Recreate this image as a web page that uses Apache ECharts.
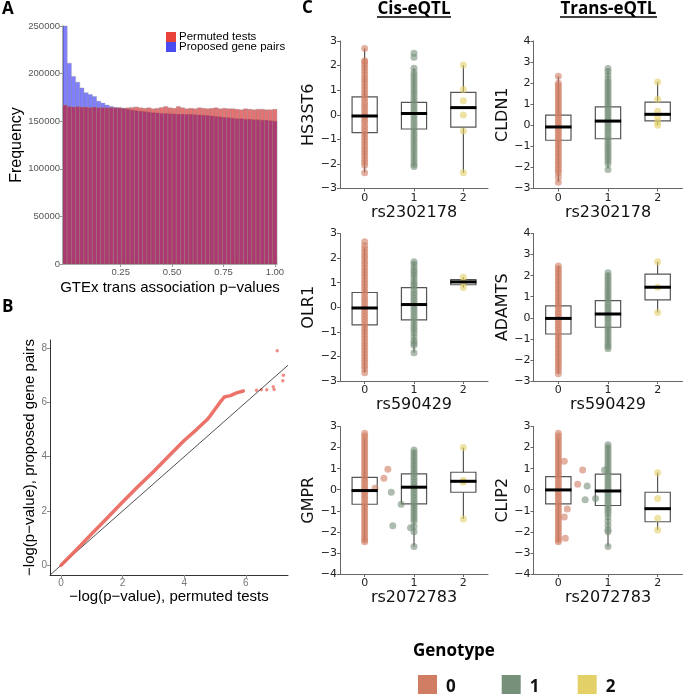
<!DOCTYPE html>
<html><head><meta charset="utf-8">
<script src="https://cdn.jsdelivr.net/npm/echarts@6/dist/echarts.min.js"></script>
<style>html,body{margin:0;padding:0;background:#fff}#c{width:683px;height:694px}</style>
</head><body><div id="c"></div>
<script>
// ---------- Panel A: histogram ----------
const histBinStart = -0.0306;
const histBinWidth = 1 / 49;
const histPermuted = [167000,165500,165000,165500,165000,165000,164500,165000,164000,164500,
  164000,164500,164000,164000,163500,164000,164500,165000,164000,163500,
  164000,163000,163500,164500,165500,164000,163500,165500,164000,163000,
  163500,163000,164000,163500,163000,163500,164000,163000,163500,163000,
  163000,162500,162000,163000,162500,162000,162500,162500,162000,162000,162500];
const histProposed = [250000,211000,197000,191000,185000,180000,178000,176000,171000,169000,
  167000,165500,164500,164000,163500,162500,161500,161000,160500,160000,
  159500,159000,158500,158200,158000,157800,157600,157400,157200,157000,
  157000,156800,156500,156200,156000,155500,155000,154500,154000,153500,
  153000,152500,152500,152000,152000,151500,151500,151000,151000,150500,150000];
const histXTicks = [0.25, 0.5, 0.75, 1.0];
const histYTicks = [0, 50000, 100000, 150000, 200000, 250000];

// ---------- Panel B: QQ plot ----------
const qqCurve = [[0,0],[0.5,0.57],[1,1.16],[1.5,1.74],[2,2.33],[2.5,2.9],[3,3.45],[3.5,4.03],
  [4,4.6],[4.4,5.0],[4.73,5.35],[4.84,5.5],[5.0,5.75],[5.16,6.0],[5.3,6.2],[5.5,6.25],[5.7,6.35],[5.92,6.42]];
const qqOutliers = [[6.35,6.45],[6.5,6.47],[6.68,6.47],[6.89,6.58],[6.92,6.48],[7.2,6.8],[7.22,7.0],[7.02,7.9]];
const qqDiagonal = [[-0.357,-0.357],[7.37,7.37]];
const qqXTicks = [0, 2, 4, 6];
const qqYTicks = [0, 2, 4, 6, 8];

// ---------- Panel C: eQTL boxplots ----------
const genotypes = ['0', '1', '2'];
const cGenes = ['HS3ST6', 'CLDN1', 'OLR1', 'ADAMTS', 'GMPR', 'CLIP2'];
const cSnps = ['rs2302178', 'rs2302178', 'rs590429', 'rs590429', 'rs2072783', 'rs2072783'];
const cYMin = [-3, -3, -3, -3, -4, -4];
const cYMax = [3, 4, 3, 4, 3, 3];
// box stats per genotype: [lowWhisker, q1, median, q3, highWhisker]
const hs3st6Box = [[-2.36,-0.73,-0.05,0.73,2.7],[-2.1,-0.58,0.05,0.5,1.89],[-2.36,-0.5,0.29,0.91,2.02]];
const cldn1Box  = [[-2.7,-0.71,-0.08,0.48,2.33],[-2.06,-0.64,0.2,0.87,2.7],[0.0,0.21,0.52,1.1,2.06]];
const olr1Box   = [[-2.66,-0.72,-0.03,0.6,2.4],[-1.85,-0.51,0.11,0.8,1.85],[0.8,0.915,1.03,1.125,1.22]];
const adamtsBox = [[-2.65,-0.77,-0.03,0.57,2.46],[-1.47,-0.45,0.18,0.81,2.14],[0.25,0.85,1.45,2.07,2.66]];
const gmprBox   = [[-2.47,-0.69,-0.04,0.59,2.4],[-2.7,-0.67,0.12,0.75,1.89],[-1.39,-0.12,0.4,0.83,2.0]];
const clip2Box  = [[-2.47,-0.67,-0.01,0.62,2.4],[-2.7,-0.75,-0.06,0.74,2.13],[-1.91,-1.52,-0.9,-0.12,0.81]];
// expression values of the plotted samples, per genotype
const hs3st6Pts = [
  [2.7,2.2,2.15,2.02,1.9,1.78,1.65,1.52,1.4,1.28,1.15,1.03,0.9,0.78,0.66,0.53,0.41,0.29,0.17,0.05,-0.07,-0.19,-0.31,-0.44,-0.56,-0.68,-0.8,-0.93,-1.05,-1.17,-1.3,-1.42,-1.55,-1.67,-1.8,-1.92,-2.05,-2.36],
  [2.5,2.34,1.89,1.72,1.6,1.47,1.35,1.22,1.1,0.97,0.85,0.72,0.6,0.47,0.35,0.22,0.1,-0.03,-0.15,-0.28,-0.4,-0.53,-0.65,-0.78,-0.9,-1.03,-1.15,-1.28,-1.4,-1.53,-1.65,-1.78,-1.9,-2.02,-2.1],
  [2.02,1.03,0.57,-0.01,-0.66,-2.36]];
const cldn1Pts = [
  [2.33,2.0,1.88,1.75,1.62,1.5,1.37,1.25,1.12,1.0,0.87,0.75,0.62,0.5,0.37,0.25,0.12,0.0,-0.13,-0.25,-0.38,-0.5,-0.63,-0.75,-0.88,-1.0,-1.13,-1.25,-1.38,-1.5,-1.63,-1.75,-1.88,-2.0,-2.13,-2.25,-2.45,-2.7],
  [2.7,2.55,2.38,2.2,2.07,1.95,1.82,1.7,1.57,1.45,1.32,1.2,1.07,0.95,0.82,0.7,0.57,0.45,0.32,0.2,0.07,-0.05,-0.18,-0.3,-0.43,-0.55,-0.68,-0.8,-0.93,-1.05,-1.18,-1.3,-1.43,-1.55,-1.68,-1.82,-2.1],
  [2.06,1.24,0.67,0.37,0.16,0.0]];
const olr1Pts = [
  [2.66,2.5,2.37,2.25,2.12,2.0,1.87,1.75,1.62,1.5,1.37,1.25,1.12,1.0,0.87,0.75,0.62,0.5,0.37,0.25,0.12,0.0,-0.13,-0.25,-0.38,-0.5,-0.63,-0.75,-0.88,-1.0,-1.13,-1.25,-1.38,-1.5,-1.63,-1.75,-1.88,-2.0,-2.13,-2.25,-2.38,-2.5,-2.66],
  [1.85,1.75,1.62,1.5,1.4,1.3,1.18,1.05,0.95,0.85,0.72,0.6,0.5,0.38,0.27,0.15,0.05,-0.07,-0.18,-0.3,-0.42,-0.55,-0.68,-0.8,-0.92,-1.05,-1.2,-1.35,-1.45,-1.55,-1.85],
  [1.22,1.03,0.8]];
const adamtsPts = [
  [2.46,2.33,2.2,2.08,1.95,1.82,1.7,1.57,1.44,1.32,1.19,1.06,0.94,0.81,0.68,0.56,0.43,0.3,0.18,0.05,-0.08,-0.2,-0.33,-0.46,-0.58,-0.71,-0.84,-0.96,-1.09,-1.22,-1.34,-1.47,-1.6,-1.72,-1.85,-1.98,-2.1,-2.23,-2.36,-2.5,-2.65],
  [2.14,2.0,1.88,1.75,1.62,1.5,1.37,1.25,1.12,1.0,0.88,0.75,0.62,0.5,0.38,0.25,0.12,0.0,-0.12,-0.25,-0.38,-0.5,-0.62,-0.75,-0.88,-1.0,-1.12,-1.25,-1.36,-1.47],
  [2.66,1.45,0.25]];
const gmprPts = [
  [2.68,2.55,2.42,2.3,2.17,2.04,1.92,1.79,1.66,1.54,1.41,1.28,1.16,1.03,0.9,0.78,0.65,0.52,0.4,0.27,0.14,0.02,-0.11,-0.24,-0.36,-0.49,-0.62,-0.74,-0.87,-1.0,-1.12,-1.25,-1.38,-1.5,-1.63,-1.76,-1.88,-2.01,-2.14,-2.26,-2.39,-2.47],
  [1.89,1.75,1.62,1.5,1.37,1.25,1.12,1.0,0.87,0.75,0.62,0.5,0.37,0.25,0.12,0.0,-0.13,-0.25,-0.38,-0.5,-0.63,-0.75,-0.88,-1.0,-1.13,-1.25,-1.38,-1.5,-1.75,-2.0,-2.7],
  [2.0,0.44,0.37,-1.39]];
const clip2Pts = [
  [2.68,2.55,2.42,2.3,2.17,2.04,1.92,1.79,1.66,1.54,1.41,1.28,1.16,1.03,0.9,0.78,0.65,0.52,0.4,0.27,0.14,0.02,-0.11,-0.24,-0.36,-0.49,-0.62,-0.74,-0.87,-1.0,-1.12,-1.25,-1.38,-1.5,-1.63,-1.76,-1.88,-2.01,-2.14,-2.26,-2.39,-2.47],
  [2.13,2.0,1.88,1.75,1.62,1.5,1.37,1.25,1.12,1.0,0.87,0.75,0.62,0.5,0.37,0.25,0.12,0.0,-0.13,-0.25,-0.38,-0.5,-0.63,-0.75,-0.88,-1.0,-1.13,-1.3,-1.5,-1.7,-1.9,-2.0,-2.7],
  [0.81,-0.42,-1.35,-1.91]];
// jittered samples that fall away from their genotype column: [x, value, genotypeIndex]
const hs3st6Jit = [];
const cldn1Jit = [];
const olr1Jit = [];
const adamtsJit = [];
const gmprJit = [[0.21,0.07,0],[0.47,0.97,0],[0.39,0.55,0],[0.54,-0.12,1],[0.74,-0.69,1],[0.57,-1.71,1],[0.93,-1.8,1]];
const clip2Jit = [[0.12,1.35,0],[0.12,-1.3,0],[0.14,-2.3,0],[0.49,0.94,0],[0.39,0.26,0],[0.18,-0.91,0],[0.58,0.18,1],[0.54,-0.48,1],[0.75,-0.42,1],[0.93,0.94,1]];

const cBoxes = [hs3st6Box, cldn1Box, olr1Box, adamtsBox, gmprBox, clip2Box];
const cPts = [hs3st6Pts, cldn1Pts, olr1Pts, adamtsPts, gmprPts, clip2Pts];
const cJit = [hs3st6Jit, cldn1Jit, olr1Jit, adamtsJit, gmprJit, clip2Jit];

// ---------- styles / layout ----------
const genoColors = ['#D17D63', '#76907A', '#E3D167'];
const colLeft = [340, 533.5], colWidth = [148, 149];
const rowTop = [41, 233.5, 426.5], rowHeight = 147.5;
const BOX_HALF = 0.255;
const minus = v => (v < 0 ? '\u2212' + Math.abs(v) : String(v));
const sansA = 'Liberation Sans';
const sansC = 'DejaVu Sans';

const chart = echarts.init(document.getElementById('c'), null, {renderer: 'canvas'});

const grids = [], xAxes = [], yAxes = [], series = [];

// Panel A
grids.push({left: 63, top: 26, width: 214, height: 238, outerBoundsMode: 'none'});
xAxes.push({gridIndex: 0, type: 'value', min: histBinStart, max: histBinStart + histPermuted.length * histBinWidth,
  name: 'GTEx trans association p\u2212values', nameLocation: 'middle', nameGap: 16,
  nameTextStyle: {fontFamily: sansA, fontSize: 15, color: '#000', verticalAlign: 'top'},
  axisLine: {show: true, onZero: false, lineStyle: {color: '#999', width: 1.5}},
  axisTick: {show: true, length: 3, lineStyle: {color: '#999'}, customValues: histXTicks},
  axisLabel: {customValues: histXTicks, formatter: v => v.toFixed(2), fontFamily: sansA, fontSize: 9.5, color: '#555', margin: 3},
  splitLine: {show: false}});
yAxes.push({gridIndex: 0, type: 'value', min: 0, max: 250000,
  name: 'Frequency', nameLocation: 'middle', nameGap: 30, nameRotate: 90,
  nameTextStyle: {fontFamily: sansA, fontSize: 16, color: '#000'},
  axisLine: {show: true, onZero: false, lineStyle: {color: '#999', width: 1.5}},
  axisTick: {show: true, length: 3, lineStyle: {color: '#999'}, customValues: histYTicks},
  axisLabel: {customValues: histYTicks, formatter: v => String(v), fontFamily: sansA, fontSize: 9.5, color: '#555', margin: 3},
  splitLine: {show: false}});

function histData(counts) {
  return counts.map((c, i) => [histBinStart + i * histBinWidth, histBinStart + (i + 1) * histBinWidth, c]);
}
function renderHist(params, api) {
  const p1 = api.coord([api.value(0), api.value(2)]);
  const p2 = api.coord([api.value(1), 0]);
  return {type: 'rect', shape: {x: p1[0], y: p1[1], width: p2[0] - p1[0], height: p2[1] - p1[1]},
    style: {fill: api.visual('color'), stroke: 'rgba(150,150,150,0.7)', lineWidth: 0.5}};
}
series.push({type: 'custom', name: 'Proposed gene pairs', xAxisIndex: 0, yAxisIndex: 0,
  itemStyle: {color: 'rgba(0,0,255,0.5)'}, renderItem: renderHist,
  encode: {x: [0, 1], y: 2}, data: histData(histProposed), silent: true});
series.push({type: 'custom', name: 'Permuted tests', xAxisIndex: 0, yAxisIndex: 0,
  itemStyle: {color: 'rgba(210,0,0,0.55)'}, renderItem: renderHist,
  encode: {x: [0, 1], y: 2}, data: histData(histPermuted), silent: true});

// Panel B
grids.push({left: 50, top: 340, width: 238, height: 235, outerBoundsMode: 'none'});
xAxes.push({gridIndex: 1, type: 'value', min: qqDiagonal[0][0], max: qqDiagonal[1][0],
  name: '\u2212log(p\u2212value), permuted tests', nameLocation: 'middle', nameGap: 10,
  nameTextStyle: {fontFamily: sansA, fontSize: 15, color: '#000', verticalAlign: 'top'},
  axisLine: {show: true, onZero: false, lineStyle: {color: '#333', width: 1}},
  axisTick: {show: true, length: 3, lineStyle: {color: '#888'}, customValues: qqXTicks},
  axisLabel: {customValues: qqXTicks, fontFamily: sansA, fontSize: 10, color: '#777', margin: 3},
  splitLine: {show: false}});
yAxes.push({gridIndex: 1, type: 'value', min: qqDiagonal[0][1], max: 8.3,
  name: '\u2212log(p\u2212value), proposed gene pairs', nameLocation: 'middle', nameGap: 8, nameRotate: 90,
  nameTextStyle: {fontFamily: sansA, fontSize: 15, color: '#000'},
  axisLine: {show: true, onZero: false, lineStyle: {color: '#333', width: 1}},
  axisTick: {show: true, length: 3, lineStyle: {color: '#888'}, customValues: qqYTicks},
  axisLabel: {customValues: qqYTicks, fontFamily: sansA, fontSize: 10, color: '#777', margin: 3},
  splitLine: {show: false}});
series.push({type: 'line', name: 'diag', xAxisIndex: 1, yAxisIndex: 1, data: qqDiagonal, showSymbol: false,
  lineStyle: {color: '#222', width: 0.8}, silent: true});
series.push({type: 'line', name: 'qq', xAxisIndex: 1, yAxisIndex: 1, data: qqCurve, showSymbol: false,
  lineStyle: {color: 'rgba(234,100,90,0.9)', width: 3.5, cap: 'round', join: 'round'}, silent: true});
series.push({type: 'scatter', name: 'qqpts', xAxisIndex: 1, yAxisIndex: 1, data: qqOutliers, symbolSize: 3.5,
  itemStyle: {color: 'rgba(234,100,90,0.9)'}, silent: true});

// Panel C
function renderBox(params, api) {
  const x = api.value(0);
  const lo = api.coord([x, api.value(1)]), q1 = api.coord([x, api.value(2)]);
  const q3 = api.coord([x, api.value(4)]), hi = api.coord([x, api.value(5)]);
  const l = api.coord([x - BOX_HALF, 0])[0], r = api.coord([x + BOX_HALF, 0])[0];
  return {type: 'group', children: [
    {type: 'line', shape: {x1: lo[0], y1: lo[1], x2: q1[0], y2: q1[1]}, style: {stroke: '#333', lineWidth: 1}},
    {type: 'line', shape: {x1: q3[0], y1: q3[1], x2: hi[0], y2: hi[1]}, style: {stroke: '#333', lineWidth: 1}},
    {type: 'rect', shape: {x: l, y: q3[1], width: r - l, height: q1[1] - q3[1]}, style: {fill: 'none', stroke: '#555', lineWidth: 1.2}}
  ]};
}
function renderMedian(params, api) {
  const x = api.value(0);
  const m = api.coord([x, api.value(3)]);
  const l = api.coord([x - BOX_HALF - 0.01, 0])[0], r = api.coord([x + BOX_HALF + 0.01, 0])[0];
  return {type: 'line', shape: {x1: l, y1: m[1], x2: r, y2: m[1]}, style: {stroke: '#000', lineWidth: 3}};
}

for (let p = 0; p < 6; p++) {
  const gi = p + 2;
  const row = Math.floor(p / 2), col = p % 2;
  grids.push({left: colLeft[col], top: rowTop[row], width: colWidth[col], height: rowHeight, outerBoundsMode: 'none'});
  xAxes.push({gridIndex: gi, type: 'value', min: -0.5, max: 2.5,
    name: cSnps[p], nameLocation: 'middle', nameGap: 14,
    nameTextStyle: {fontFamily: sansC, fontSize: 16, color: '#111', verticalAlign: 'top'},
    axisLine: {show: true, onZero: false, lineStyle: {color: '#666', width: 1}},
    axisTick: {show: true, length: 3, lineStyle: {color: '#666'}, customValues: [0, 1, 2]},
    axisLabel: {customValues: [0, 1, 2], formatter: v => genotypes[Math.round(v)], fontFamily: sansC, fontSize: 11, color: '#222', margin: 4},
    splitLine: {show: false}});
  yAxes.push({gridIndex: gi, type: 'value', min: cYMin[p], max: cYMax[p], interval: 1,
    name: cGenes[p], nameLocation: 'middle', nameGap: 14, nameRotate: 90,
    nameTextStyle: {fontFamily: sansC, fontSize: 16, color: '#111'},
    axisLine: {show: true, onZero: false, lineStyle: {color: '#666', width: 1}},
    axisTick: {show: true, length: 3, lineStyle: {color: '#666'}},
    axisLabel: {formatter: minus, fontFamily: sansC, fontSize: 11, color: '#222', margin: 3},
    splitLine: {show: false}});
  const boxData = cBoxes[p].map((b, g) => [g].concat(b));
  series.push({type: 'custom', name: 'box' + p, xAxisIndex: gi, yAxisIndex: gi, renderItem: renderBox,
    encode: {x: 0, y: [1, 2, 3, 4, 5]}, data: boxData, silent: true, z: 2});
  for (let g = 0; g < 3; g++) {
    const pts = cPts[p][g].map(v => [g, v]);
    cJit[p].filter(j => j[2] === g).forEach(j => pts.push([j[0], j[1]]));
    series.push({type: 'scatter', name: genotypes[g], xAxisIndex: gi, yAxisIndex: gi, data: pts,
      symbolSize: 7, itemStyle: {color: genoColors[g], opacity: 0.6}, silent: true, z: 3});
  }
  series.push({type: 'custom', name: 'median' + p, xAxisIndex: gi, yAxisIndex: gi, renderItem: renderMedian,
    encode: {x: 0, y: 3}, data: boxData, silent: true, z: 4});
}

const legends = [
  {left: 161, top: 26, orient: 'vertical', itemWidth: 10, itemHeight: 10, itemGap: -2, icon: 'rect',
    textStyle: {fontFamily: sansA, fontSize: 11.5, color: '#000', lineHeight: 10, padding: [0, 0, 0, -2]},
    data: [{name: 'Permuted tests', itemStyle: {color: '#E8413A', opacity: 1}},
           {name: 'Proposed gene pairs', itemStyle: {color: '#4B4BF2', opacity: 1}}]}
];
const genoLegendLeft = [413, 496.7, 572.7];
for (let g = 0; g < 3; g++) {
  legends.push({left: genoLegendLeft[g], top: 670, itemWidth: 19, itemHeight: 24, icon: 'rect',
    textStyle: {fontFamily: 'Open Sans', fontWeight: 'bold', fontSize: 17, color: '#111', padding: [0, 0, 0, 4]},
    data: [{name: genotypes[g], itemStyle: {color: genoColors[g], opacity: 1}}]});
}

const boldFont = 'bold 17px "Open Sans"';
chart.setOption({
  animation: false,
  backgroundColor: '#fff',
  grid: grids, xAxis: xAxes, yAxis: yAxes, series: series, legend: legends,
  graphic: [
    {type: 'text', left: 2, top: 1, style: {text: 'A', font: boldFont, fill: '#000'}},
    {type: 'text', left: 2, top: 299, style: {text: 'B', font: boldFont, fill: '#000'}},
    {type: 'text', left: 302, top: 0, style: {text: 'C', font: boldFont, fill: '#000'}},
    {type: 'text', x: 414, y: 9, style: {text: 'Cis-eQTL', font: boldFont, fill: '#000', align: 'center', verticalAlign: 'middle'}},
    {type: 'text', x: 608.5, y: 9, style: {text: 'Trans-eQTL', font: boldFont, fill: '#000', align: 'center', verticalAlign: 'middle'}},
    {type: 'line', shape: {x1: 377, y1: 17, x2: 451, y2: 17}, style: {stroke: '#000', lineWidth: 1.3}},
    {type: 'line', shape: {x1: 560, y1: 17, x2: 657, y2: 17}, style: {stroke: '#000', lineWidth: 1.3}},
    {type: 'text', left: 413, top: 643, style: {text: 'Genotype', font: boldFont, fill: '#000'}}
  ]
});
</script></body></html>
